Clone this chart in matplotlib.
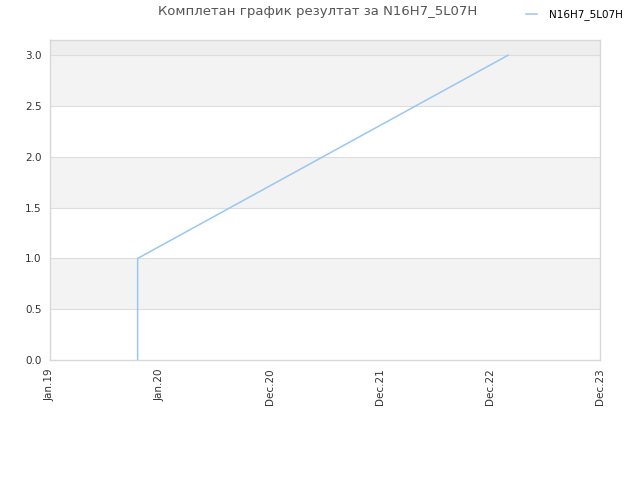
import matplotlib
matplotlib.use("Agg")
import matplotlib.pyplot as plt
import matplotlib.dates as mdates
import numpy as np
from datetime import datetime

title = "Комплетан график резултат за N16H7_5L07H"
series_name = "N16H7_5L07H"
dates = [datetime(2019, 10, 14), datetime(2019, 10, 14), datetime(2023, 2, 4)]
values = [0, 1, 3]
tick_labels = ["Jan.19", "Jan.20", "Dec.20", "Dec.21", "Dec.22", "Dec.23"]
x_start = datetime(2019, 1, 1)
x_end = datetime(2023, 12, 1)
y_ticks = [0.0, 0.5, 1.0, 1.5, 2.0, 2.5, 3.0]

fig = plt.figure(figsize=(6.4, 4.8), dpi=100)
ax = fig.add_axes([50/640, 120/480, 550/640, 320/480])

ymax = 3.15
# alternating bands
ax.axhspan(3.0, ymax, color="#eeeeee", zorder=0, lw=0)
for lo in [2.5, 1.5, 0.5]:
    ax.axhspan(lo, lo + 0.5, color="#f3f3f3", zorder=0, lw=0)
for y in y_ticks[1:]:
    ax.axhline(y, color="#dddddd", lw=0.8, zorder=1)

line, = ax.plot(dates, values, color="#99c6f3", lw=1.1, zorder=3, label=series_name)

x0 = mdates.date2num(x_start)
x1 = mdates.date2num(x_end)
ax.set_xlim(x0, x1)
ax.set_ylim(0, ymax)
ax.set_xticks(np.linspace(x0, x1, len(tick_labels)))
ax.set_xticklabels(tick_labels, rotation=90, fontsize=7.5, color="#333333")
ax.set_yticks(y_ticks)
ax.set_yticklabels([f"{v:.1f}" for v in y_ticks], fontsize=7.5, color="#333333")
ax.tick_params(length=0, pad=6)
for s in ax.spines.values():
    s.set_color("#d8d8d8")
    s.set_linewidth(1)

fig.text(318/640, 1 - 12/480, title, ha="center", va="center", fontsize=9.5, color="#555555")
fig.legend(handles=[line], loc="center right", bbox_to_anchor=(623/640, 1 - 15/480),
           frameon=False, fontsize=7.5, handlelength=1.0, handletextpad=1.2,
           borderaxespad=0, borderpad=0)

fig.savefig("out.png", dpi=100)
